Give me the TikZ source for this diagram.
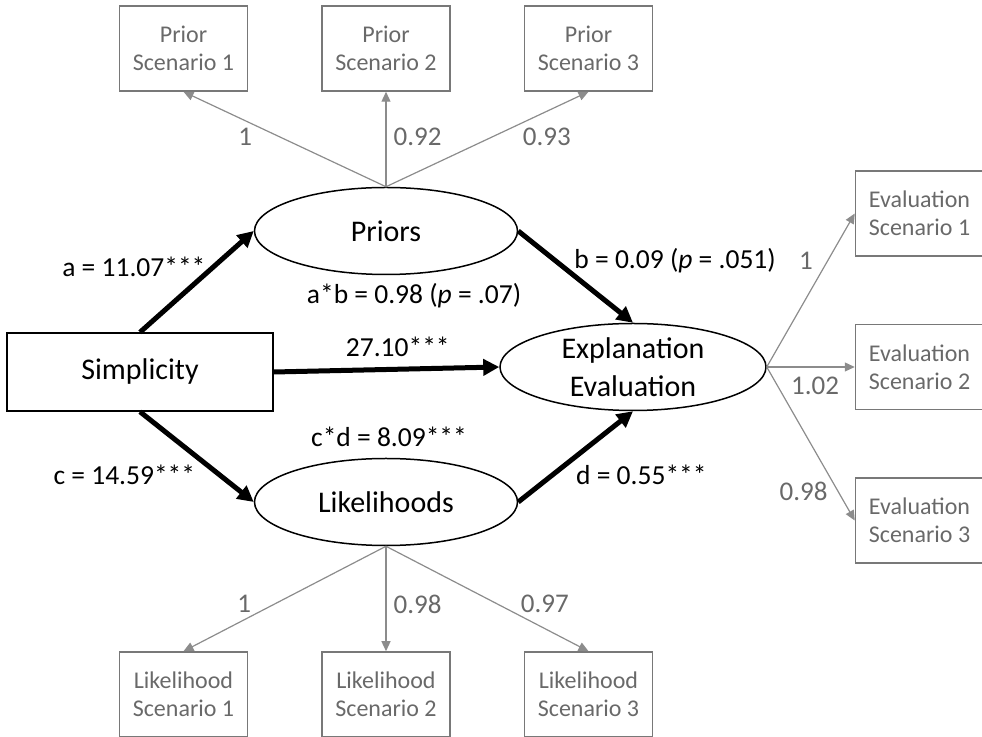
\documentclass[tikz,border=0pt]{standalone}
\usepackage{fontspec}
\setmainfont{Carlito}
\usepackage{tikz}
\usetikzlibrary{shapes.geometric, arrows.meta, positioning}
\definecolor{boxgray}{RGB}{120,120,120}
\definecolor{linegray}{RGB}{140,140,140}
\definecolor{labelgray}{RGB}{105,105,105}
\tikzset{
    indicator/.style = {
        rectangle,
        draw=boxgray,
        line width=1.5pt,
        text=labelgray,
        align=center,
        minimum width=128pt,
        minimum height=85pt,
        font=\fontsize{24}{28}\selectfont
    },
    loading/.style = {
        draw=linegray,
        line width=1.2pt,
        -{Triangle[length=10pt,width=9pt]}
    },
    loadlabel/.style = {
        text=labelgray,
        inner sep=2pt,
        font=\fontsize{27}{31}\selectfont
    }
}

\begin{document}
\begin{tikzpicture}[
    x=1pt, y=1pt,
    node distance=73pt and 73pt, % spacing of indicator boxes
    latent/.style={ellipse, draw, line width=1.5pt, minimum width=263pt, minimum height=87pt, inner sep=0pt, align=center, font=\fontsize{30}{38}\selectfont},
    observed/.style={rectangle, draw, line width=1.5pt, minimum width=266pt, minimum height=78pt, font=\fontsize{30}{38}\selectfont},
    effect/.style={draw, line width=5pt, -{Triangle[length=16pt,width=16pt]}},
    coef/.style={inner sep=2pt, font=\fontsize{27.5}{32}\selectfont}
]
\useasboundingbox (0,0) rectangle (982,736);

% Main nodes
\node [observed] (S) at (140,364) {Simplicity};
\node [latent] (P) at (386,505) {Priors};
\node [latent] (L) at (386,234) {Likelihoods};
\node [latent, minimum width=266pt] (E) at (633,369) {Explanation\\Evaluation};

% Prior indicators
\node [indicator, above=95pt of P] (PS2) {Prior\\Scenario 2};
\node [indicator, left=of PS2] (PS1) {Prior\\Scenario 1};
\node [indicator, right=of PS2] (PS3) {Prior\\Scenario 3};
\draw [loading] (P.north) -- node[loadlabel, pos=0.53, left=24pt] {1} (PS1.south);
\draw [loading] (P.north) -- node[loadlabel, pos=0.52, right=5pt] {0.92} (PS2.south);
\draw [loading] (P.north) -- node[loadlabel, pos=0.53, right=27pt] {0.93} (PS3.south);

% Likelihood indicators
\node [indicator, below=105pt of L] (LS2) {Likelihood\\Scenario 2};
\node [indicator, left=of LS2] (LS1) {Likelihood\\Scenario 1};
\node [indicator, right=of LS2] (LS3) {Likelihood\\Scenario 3};
\draw [loading] (L.south) -- node[loadlabel, pos=0.55, left=21pt] {1} (LS1.north);
\draw [loading] (L.south) -- node[loadlabel, pos=0.55, right=5pt] {0.98} (LS2.north);
\draw [loading] (L.south) -- node[loadlabel, pos=0.55, right=21pt] {0.97} (LS3.north);

% Evaluation indicators
\node [indicator, right=88pt of E] (ES2) {Evaluation\\Scenario 2};
\node [indicator, above=67pt of ES2] (ES1) {Evaluation\\Scenario 1};
\node [indicator, below=67pt of ES2] (ES3) {Evaluation\\Scenario 3};
\draw [loading] (E.east) -- node[loadlabel, pos=0.69, left=12pt] {1} (ES1.west);
\draw [loading] (E.east) -- node[loadlabel, pos=0.55, below=7pt] {1.02} (ES2.west);
\draw [loading] (E.east) -- node[loadlabel, pos=0.81, left=8pt] {0.98} (ES3.west);

% Structural paths
\draw [effect] (S.north) -- node[coef, pos=0.65, left=4pt] {a = 11.07***} (P.west);
\draw [effect] (S.south) -- node[coef, pos=0.7, left=20pt] {c = 14.59***} (L.west);
\draw [effect] (S.east) -- node[coef, pos=0.55, above=8pt] {27.10***} (E.west);
\draw [effect] (P.east) -- node[coef, pos=0.32, right=15pt] {b = 0.09 (\textit{p} = .051)} (E.north);
\draw [effect] (L.east) -- node[coef, pos=0.3, right=19pt] {d = 0.55***} (E.south);

% Indirect effects
\node [coef, below=6pt of P, xshift=28pt] (ab) {a*b = 0.98 (\textit{p} = .07)};
\node [coef, above=8.5pt of L, xshift=3pt] (cd) {c*d = 8.09***};

\end{tikzpicture}
\end{document}
